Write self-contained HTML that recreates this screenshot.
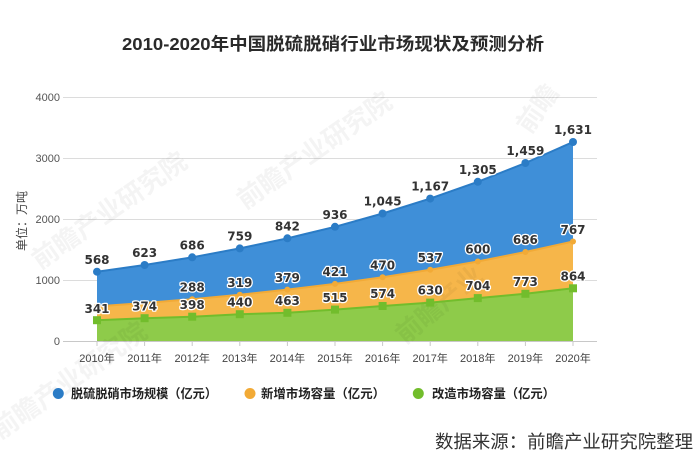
<!DOCTYPE html>
<html><head><meta charset="utf-8"><style>
html,body{margin:0;padding:0;background:#fff;}
svg{display:block;}
</style></head><body>
<svg width="700" height="466" viewBox="0 0 700 466" xmlns="http://www.w3.org/2000/svg">
<rect width="700" height="466" fill="#fff"/>
<!-- title -->
<text x="122" y="50" font-family="Liberation Sans, Noto Sans CJK SC, sans-serif" font-size="17.5" font-weight="bold" fill="#2a2a2a" textLength="422" lengthAdjust="spacingAndGlyphs">2010-2020年中国脱硫脱硝行业市场现状及预测分析</text>

<!-- gridlines -->
<g stroke="#dcdcdc" stroke-width="1">
<line x1="63" y1="97.5" x2="597" y2="97.5"/>
<line x1="63" y1="158.5" x2="597" y2="158.5"/>
<line x1="63" y1="219.5" x2="597" y2="219.5"/>
<line x1="63" y1="280.5" x2="597" y2="280.5"/>
<line x1="63" y1="341.5" x2="597" y2="341.5" stroke="#c8c8c8"/>
</g>
<g stroke="#c8c8c8" stroke-width="1">
<line x1="97" y1="341" x2="97" y2="346"/><line x1="144.6" y1="341" x2="144.6" y2="346"/><line x1="192.2" y1="341" x2="192.2" y2="346"/><line x1="239.8" y1="341" x2="239.8" y2="346"/><line x1="287.4" y1="341" x2="287.4" y2="346"/><line x1="335" y1="341" x2="335" y2="346"/><line x1="382.6" y1="341" x2="382.6" y2="346"/><line x1="430.2" y1="341" x2="430.2" y2="346"/><line x1="477.8" y1="341" x2="477.8" y2="346"/><line x1="525.4" y1="341" x2="525.4" y2="346"/><line x1="573" y1="341" x2="573" y2="346"/>
</g>

<!-- y labels -->
<g font-family="Liberation Sans, sans-serif" font-size="11" fill="#555" text-anchor="end">
<text x="60" y="101">4000</text>
<text x="60" y="162">3000</text>
<text x="60" y="223">2000</text>
<text x="60" y="284">1000</text>
<text x="60" y="345">0</text>
</g>
<text transform="translate(26,221) rotate(-90)" font-family="Liberation Sans, Noto Sans CJK SC, sans-serif" font-size="12" fill="#444" text-anchor="middle">单位：万吨</text>

<!-- areas -->
<path d="M97,271.7 L144.6,265.0 L192.2,257.3 L239.8,248.4 L287.4,238.3 L335,226.8 L382.6,213.5 L430.2,198.6 L477.8,181.8 L525.4,163.0 L573,142.0 L573,241.5 L525.4,252.0 L477.8,261.5 L430.2,269.8 L382.6,277.3 L335,283.9 L287.4,289.6 L239.8,294.7 L192.2,299.2 L144.6,303.0 L97,306.4 Z" fill="#3f8fd8"/>
<path d="M97,306.4 L144.6,303.0 L192.2,299.2 L239.8,294.7 L287.4,289.6 L335,283.9 L382.6,277.3 L430.2,269.8 L477.8,261.5 L525.4,252.0 L573,241.5 L573,288.3 L525.4,293.8 L477.8,298.1 L430.2,302.6 L382.6,306.0 L335,309.6 L287.4,312.8 L239.8,314.2 L192.2,316.7 L144.6,318.2 L97,320.2 Z" fill="#f6b64a"/>
<path d="M97,320.2 L144.6,318.2 L192.2,316.7 L239.8,314.2 L287.4,312.8 L335,309.6 L382.6,306.0 L430.2,302.6 L477.8,298.1 L525.4,293.8 L573,288.3 L573,341 L97,341 Z" fill="#8ecb4a"/>

<!-- faint watermarks -->
<g font-family="Liberation Sans, Noto Sans CJK SC, sans-serif" font-size="26" fill="#000" opacity="0.045" font-weight="bold">
<text transform="translate(40,270) rotate(-35)">前瞻产业研究院</text>
<text transform="translate(245,210) rotate(-35)">前瞻产业研究院</text>
<text transform="translate(0,440) rotate(-35)">前瞻产业研究院</text>
<text transform="translate(530,135) rotate(-55)">前瞻</text>
<text transform="translate(405,345) rotate(-40)">前瞻产业</text>
</g>

<!-- lines -->
<polyline points="97,271.7 144.6,265.0 192.2,257.3 239.8,248.4 287.4,238.3 335,226.8 382.6,213.5 430.2,198.6 477.8,181.8 525.4,163.0 573,142.0" fill="none" stroke="#2b7cc6" stroke-width="2"/>
<polyline points="97,306.4 144.6,303.0 192.2,299.2 239.8,294.7 287.4,289.6 335,283.9 382.6,277.3 430.2,269.8 477.8,261.5 525.4,252.0 573,241.5" fill="none" stroke="#f2aa36" stroke-width="2"/>
<polyline points="97,320.2 144.6,318.2 192.2,316.7 239.8,314.2 287.4,312.8 335,309.6 382.6,306.0 430.2,302.6 477.8,298.1 525.4,293.8 573,288.3" fill="none" stroke="#72bd2c" stroke-width="2"/>

<!-- markers -->
<g fill="#2b7cc6">
<circle cx="97" cy="271.7" r="4"/><circle cx="144.6" cy="265.0" r="4"/><circle cx="192.2" cy="257.3" r="4"/><circle cx="239.8" cy="248.4" r="4"/><circle cx="287.4" cy="238.3" r="4"/><circle cx="335" cy="226.8" r="4"/><circle cx="382.6" cy="213.5" r="4"/><circle cx="430.2" cy="198.6" r="4"/><circle cx="477.8" cy="181.8" r="4"/><circle cx="525.4" cy="163.0" r="4"/><circle cx="573" cy="142.0" r="4"/>
</g>
<g fill="#f2aa36">
<circle cx="97" cy="306.4" r="3"/><circle cx="144.6" cy="303.0" r="3"/><circle cx="192.2" cy="299.2" r="3"/><circle cx="239.8" cy="294.7" r="3"/><circle cx="287.4" cy="289.6" r="3"/><circle cx="335" cy="283.9" r="3"/><circle cx="382.6" cy="277.3" r="3"/><circle cx="430.2" cy="269.8" r="3"/><circle cx="477.8" cy="261.5" r="3"/><circle cx="525.4" cy="252.0" r="3"/><circle cx="573" cy="241.5" r="3"/>
</g>
<g fill="#72bd2c">
<rect x="93" y="316.2" width="8" height="8"/><rect x="140.6" y="314.2" width="8" height="8"/><rect x="188.2" y="312.7" width="8" height="8"/><rect x="235.8" y="310.2" width="8" height="8"/><rect x="283.4" y="308.8" width="8" height="8"/><rect x="331" y="305.6" width="8" height="8"/><rect x="378.6" y="302.0" width="8" height="8"/><rect x="426.2" y="298.6" width="8" height="8"/><rect x="473.8" y="294.1" width="8" height="8"/><rect x="521.4" y="289.8" width="8" height="8"/><rect x="569" y="284.3" width="8" height="8"/>
</g>

<!-- data labels -->
<g font-family="DejaVu Sans, sans-serif" font-size="12" font-weight="bold" fill="#333" stroke="#fff" stroke-width="2.5" paint-order="stroke" stroke-linejoin="round" text-anchor="middle">
<text x="97" y="264">568</text>
<text x="144.6" y="257">623</text>
<text x="192.2" y="249.5">686</text>
<text x="239.8" y="240.5">759</text>
<text x="287.4" y="230.5">842</text>
<text x="335" y="219">936</text>
<text x="382.6" y="205.5">1,045</text>
<text x="430.2" y="190.5">1,167</text>
<text x="477.8" y="174">1,305</text>
<text x="525.4" y="155">1,459</text>
<text x="573" y="134">1,631</text>

<text x="192.2" y="291.5">288</text>
<text x="239.8" y="287">319</text>
<text x="287.4" y="282">379</text>
<text x="335" y="276">421</text>
<text x="382.6" y="269.5">470</text>
<text x="430.2" y="262">537</text>
<text x="477.8" y="253.5">600</text>
<text x="525.4" y="244">686</text>
<text x="573" y="234">767</text>

<text x="97" y="313">341</text>
<text x="144.6" y="310.5">374</text>
<text x="192.2" y="309">398</text>
<text x="239.8" y="306.5">440</text>
<text x="287.4" y="305">463</text>
<text x="335" y="302">515</text>
<text x="382.6" y="298">574</text>
<text x="430.2" y="294.5">630</text>
<text x="477.8" y="290">704</text>
<text x="525.4" y="286">773</text>
<text x="573" y="280.5">864</text>
</g>

<!-- x labels -->
<g font-family="Liberation Sans, Noto Sans CJK SC, sans-serif" font-size="11" fill="#444" text-anchor="middle">
<text x="97" y="362">2010年</text><text x="144.6" y="362">2011年</text><text x="192.2" y="362">2012年</text><text x="239.8" y="362">2013年</text><text x="287.4" y="362">2014年</text><text x="335" y="362">2015年</text><text x="382.6" y="362">2016年</text><text x="430.2" y="362">2017年</text><text x="477.8" y="362">2018年</text><text x="525.4" y="362">2019年</text><text x="573" y="362">2020年</text>
</g>

<!-- legend -->
<circle cx="58.3" cy="393.5" r="5.5" fill="#2b7cc6"/>
<circle cx="250" cy="393.5" r="5.5" fill="#f2aa36"/>
<circle cx="418.3" cy="393.5" r="5.5" fill="#72bd2c"/>
<g font-family="Liberation Sans, Noto Sans CJK SC, sans-serif" font-size="12.5" font-weight="bold" fill="#222">
<text x="71" y="398" textLength="146" lengthAdjust="spacingAndGlyphs">脱硫脱硝市场规模（亿元）</text>
<text x="261" y="398" textLength="124" lengthAdjust="spacingAndGlyphs">新增市场容量（亿元）</text>
<text x="432" y="398" textLength="123" lengthAdjust="spacingAndGlyphs">改造市场容量（亿元）</text>
</g>

<!-- source -->
<text x="435" y="448" font-family="Liberation Sans, Noto Sans CJK SC, sans-serif" font-size="18" fill="#333" textLength="258" lengthAdjust="spacingAndGlyphs">数据来源：前瞻产业研究院整理</text>
</svg>
</body></html>
